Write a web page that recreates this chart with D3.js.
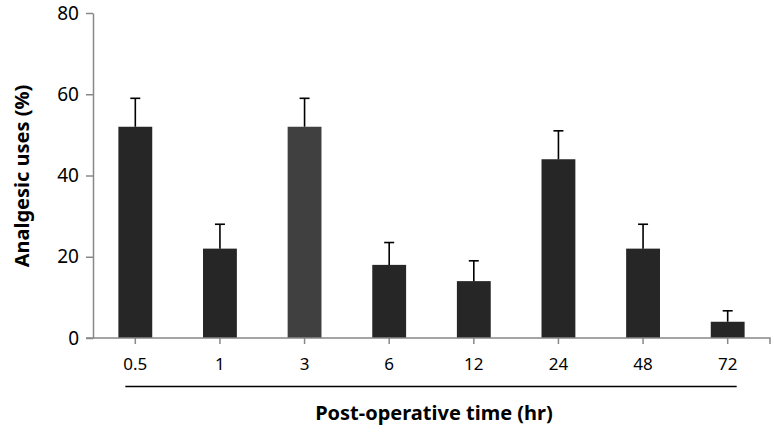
<!DOCTYPE html>
<html>
<head>
<meta charset="utf-8">
<script src="https://cdn.jsdelivr.net/npm/d3@7"></script>
<style>
body { margin: 0; background: #fff; }
text { font-family: "Noto Sans", "Open Sans", sans-serif; }
</style>
</head>
<body>
<svg id="chart" width="774" height="432"></svg>
<script>
// post-operative analgesic uses

var times = ['0.5', '1', '3', '6', '12', '24', '48', '72'];
var uses = [52, 22, 52, 18, 14, 44, 22, 4];
var errs = [7, 6, 7, 5.5, 5, 7, 6, 2.7];
var barColors = ['#262626', '#262626', '#404040', '#262626', '#262626', '#262626', '#262626', '#262626'];
var yTicks = [0, 20, 40, 60, 80];

var svg = d3.select("#chart");
var margin = {top: 13, right: 4, bottom: 94, left: 93};
var width = 774 - margin.left - margin.right;
var height = 432 - margin.top - margin.bottom;

var g = svg.append("g")
    .attr("transform", "translate(" + margin.left + "," + margin.top + ")");

var x = d3.scaleBand().domain(times).range([0, width]).paddingInner(0.6).paddingOuter(0.3);
var y = d3.scaleLinear().domain([0, 80]).range([height, 0]);

// bars
g.selectAll(".bar")
    .data(times)
    .enter().append("rect")
    .attr("class", "bar")
    .attr("x", function(d) { return x(d); })
    .attr("y", function(d, i) { return y(uses[i]); })
    .attr("width", x.bandwidth())
    .attr("height", function(d, i) { return height - y(uses[i]); })
    .attr("fill", function(d, i) { return barColors[i]; });

// error bars
times.forEach(function(t, i) {
    var cx = x(t) + x.bandwidth() / 2;
    g.append("line")
        .attr("x1", cx).attr("x2", cx)
        .attr("y1", y(uses[i])).attr("y2", y(uses[i] + errs[i]))
        .attr("stroke", "#000").attr("stroke-width", 1.6);
    g.append("line")
        .attr("x1", cx - 5).attr("x2", cx + 5)
        .attr("y1", y(uses[i] + errs[i])).attr("y2", y(uses[i] + errs[i]))
        .attr("stroke", "#000").attr("stroke-width", 1.6);
});

// y axis
var yAxis = g.append("g")
    .call(d3.axisLeft(y).tickValues(yTicks).tickSize(7).tickSizeOuter(0).tickPadding(7));
yAxis.select(".domain").attr("stroke", "#888").attr("stroke-width", 1.5);
yAxis.selectAll(".tick line").attr("stroke", "#888").attr("stroke-width", 1.5);
yAxis.selectAll(".tick text").attr("font-size", 19).attr("fill", "#000")
    .attr("font-family", "'Noto Sans', sans-serif");

// x axis
var xAxis = g.append("g")
    .attr("transform", "translate(0," + height + ")")
    .call(d3.axisBottom(x).tickSize(6).tickSizeOuter(0).tickPadding(14));
xAxis.select(".domain").attr("stroke", "#888").attr("stroke-width", 1.5)
    .attr("d", "M-7,0H" + width + "V6");
xAxis.selectAll(".tick line").attr("stroke", "#888").attr("stroke-width", 1.5);
xAxis.selectAll(".tick text").attr("font-size", 17).attr("fill", "#000")
    .attr("font-family", "'Noto Sans', sans-serif");

// underline beneath time labels
var first = x(times[0]) + x.bandwidth() / 2;
var last = x(times[times.length - 1]) + x.bandwidth() / 2;
g.append("line")
    .attr("x1", first - 10).attr("x2", last + 9)
    .attr("y1", height + 48.5).attr("y2", height + 48.5)
    .attr("stroke", "#000").attr("stroke-width", 1.3);

// titles
svg.append("text")
    .attr("x", 434).attr("y", 420)
    .attr("text-anchor", "middle")
    .attr("font-size", 20).attr("font-weight", "bold")
    .text("Post-operative time (hr)");

svg.append("text")
    .attr("transform", "translate(29,176) rotate(-90)")
    .attr("text-anchor", "middle")
    .attr("font-size", 20).attr("font-weight", "bold")
    .text("Analgesic uses (%)");
</script>
</body>
</html>
